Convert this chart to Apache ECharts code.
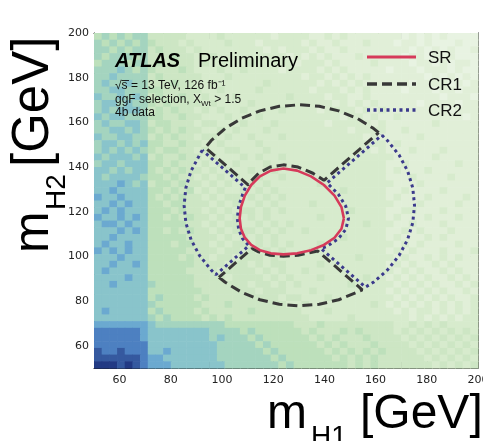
<!DOCTYPE html>
<html><head><meta charset="utf-8">
<script src="https://cdn.jsdelivr.net/npm/echarts@6/dist/echarts.min.js"></script>
<style>html,body{margin:0;padding:0;background:#fff}#c{width:483px;height:441px}</style>
</head><body><div id="c"></div>
<script>
// ---- data ----
const binWidth = 3;            // GeV per bin (both axes)
const binStart = 50;           // GeV, lower edge of first bin
// density level per bin (0 = lowest ... a = highest), rows top (m_H2 ~ 200) to bottom (m_H2 ~ 50)
const densityRows = [
"4545455 333332 2223222222122 221121211111 110101010000",
"5454545 433323 2222322212222 212112111211 101101000100",
"5545455 343332 3222222221212 221211211111 111010101001",
"5455545 333433 2232222222221 212121112111 110110101000",
"4555455 343333 2322222322222 122212111121 111011010110",
"5556545 433343 2223223222212 222121211111 011101110100",
"5565555 343333 3222322222222 212212121211 111110101010",
"5655655 333433 2232222223222 222121212111 111011110101",
"5566555 443333 3223222232222 221222121211 110111011011",
"6556565 343343 2322232222223 222212211211 111111101110",
"5665655 434333 3232222322222 222221212121 111101111011",
"5656665 343433 2323223222232 222122221212 111111110111",
"6566555 443343 3222322232222 222222122121 121111111101",
"5655665 344333 2332223222322 222212222212 111111211111",
"5566565 434343 3223232223222 222222212222 112111111111",
"6556655 343433 2332322322232 222222222121 111121111111",
"5665656 443343 3223222232222 222222222222 121111111111",
"5656565 434433 2322332223222 222222222212 111211121111",
"6566656 343343 3232223232232 222222222222 211111211111",
"5665666 443433 2323232223222 222222222222 112111111211",
"6656566 434343 3232322322322 222222222222 121112111111",
"6566665 443433 2323232232232 222222222222 111211112111",
"6667656 344343 3232322323222 222322222222 211121111111",
"6676666 443434 2323223232322 222222322222 112111121111",
"7667666 434343 3232332323232 222222222222 121112111121",
"6676766 443443 3323232232322 223222222222 211121111211",
"6767666 444343 3232323323232 222222232222 112211121111",
"7667676 443434 3323232323222 222322222222 121112111211",
"6776766 444443 3232332232323 222222222322 211211121111",
"6667676 443434 3323233323232 232222222222 112121112111",
"6676666 444443 3332323232322 222222322222 121112121111",
"6766766 444344 3323233232323 222322222222 212121111211",
"7676766 444443 3332332323232 223222222222 121211121112",
"6667666 444434 3323323332322 222222223222 212112121211",
"6676676 444444 3333233232332 222322222222 121211212111",
"6766666 444443 3332333323232 232222222222 212121121211",
"6666766 444444 3333233332323 222322222322 121212112121",
"6676666 544444 3333333233232 322222232222 212121211212",
"6666666 444444 4333333323332 223222222222 121212121121",
"6666666 454444 3433333333323 322232222222 212121212112",
"6666666 544444 4333433333332 232222222232 121212121212",
"6766666 454444 3433333433333 322232222222 212122121212",
"6666666 545444 4343433333333 332222232222 222121212122",
"7777777 655555 5555444444444 333433333333 322323232222",
"8888887 666666 6655554544444 434333434333 323232323232",
"8888887 666666 6656555454444 443434333433 332323232323",
"8888888 666666 6665555545444 444343433343 333232323232",
"9889888 667666 6665555554544 444434343434 333323232323",
"9999998 776666 6665555555454 444443434343 333332323232",
"aaa9a98 777666 6666555555545 444444434343 333333232323"
];
const levelColors = ['#e8f3e2','#e1efd8','#d7ebcd','#cde6c4','#bde0bb','#a4d4bf',
                     '#89c4cb','#6ba9d0','#4d80c1','#35599f','#223a84'];
const xTickLabels = [60, 80, 100, 120, 140, 160, 180, 200];
const yTickLabels = [60, 80, 100, 120, 140, 160, 180, 200];
const minorTicks = [55,65,70,75,85,90,95,105,110,115,125,130,135,145,150,155,165,170,175,185,190,195];
const legendNames = ['SR', 'CR1', 'CR2'];

// contour outlines [m_H1, m_H2] in GeV
const srCurve = [[147.62,117],[146.67,122.05],[143.95,127.17],[139.82,131.93],[134.78,135.82],[129.36,138.39],
  [124,139.29],[119.07,138.39],[114.81,135.82],[111.40,131.93],[108.91,127.17],[107.40,122.05],[106.90,117],
  [107.40,112.35],[108.91,108.33],[111.40,105.11],[114.81,102.76],[119.07,101.34],[124,100.86],[129.36,101.34],
  [134.78,102.76],[139.82,105.11],[143.95,108.33],[146.67,112.35],[147.62,117]];
const cr1Top = [[161.2,155.4],[159.13,157.32],[152.70,161.82],[145.59,165.14],[138.01,167.17],[130.2,167.85],
  [122.39,167.17],[114.81,165.14],[107.70,161.82],[101.27,157.32],[95.73,151.78],[93.5,148.7],[110.3,131.9],
  [110.69,132.99],[114.29,137.20],[118.77,139.99],[124,140.96],[129.71,139.99],[135.52,137.20],[139.85,134.05],[161.2,155.4]];
const cr1Bottom = [[98.8,90.6],[101.27,88.38],[107.70,83.88],[114.81,80.56],[122.39,78.53],[130.2,77.85],
  [138.01,78.53],[145.59,80.56],[152.70,83.88],[154.8,85.0],[137.45,102.35],[135.52,101.98],[129.71,100.50],
  [124,100],[118.77,100.50],[114.29,101.98],[111.7,103.5],[98.8,90.6]];
const cr2Left = [[92.3,147.5],[91.23,145.35],[87.91,138.24],[85.88,130.66],[85.2,122.85],[85.88,115.04],
  [87.91,107.46],[91.23,100.35],[95.73,93.92],[97.6,91.8],[110.5,104.7],[108.09,107.83],[106.51,112.07],
  [105.98,117],[106.51,122.38],[108.09,127.87],[109.1,130.7],[92.3,147.5]];
const cr2Right = [[162.45,154.25],[164.67,151.78],[169.17,145.35],[172.49,138.24],[174.52,130.66],[175.2,122.85],
  [174.52,115.04],[172.49,107.46],[169.17,100.35],[164.67,93.92],[159.13,88.38],[156.0,86.2],[138.65,103.55],
  [140.94,104.45],[145.41,107.83],[148.36,112.07],[149.40,117],[148.36,122.38],[145.41,127.87],[141.05,132.85],[162.45,154.25]];

// ---- build heatmap table ----
const heatData = [];
const nRows = densityRows.length;
densityRows.forEach((rowStr, k) => {
  const row = rowStr.replace(/ /g, '');
  const r = nRows - 1 - k;
  for (let c = 0; c < row.length; c++) {
    const ch = row.charAt(c);
    const lvl = ch === 'a' ? 10 : Number(ch);
    heatData.push([binStart + binWidth * c, binStart + binWidth * r, lvl]);
  }
});

const styles = {
  SR:  {color: '#d63a5a', width: 2.6, type: 'solid'},
  CR1: {color: '#383838', width: 3, type: [10, 5]},
  CR2: {color: '#3b3a8c', width: 3, type: [3, 3.5]}
};

const chart = echarts.init(document.getElementById('c'), null, {renderer: 'canvas'});
const gridRect = {left: 94, top: 33, width: 384, height: 335, containLabel: false, outerBoundsMode: 'none'};
const tickColor = '#1a1a1a';
const labelFont = {fontSize: 11, color: '#222', fontFamily: 'DejaVu Sans'};

function xAx(grid, pos, vals, len, line, labels) {
  return {gridIndex: grid, type: 'value', min: 50, max: 200, position: pos,
    axisLine: {show: line, onZero: false, lineStyle: {color: tickColor, width: 1}},
    axisTick: {show: true, inside: true, length: len, customValues: vals, lineStyle: {color: tickColor, width: 1}},
    axisLabel: labels ? Object.assign({show: true, customValues: xTickLabels, margin: 7}, labelFont) : {show: false},
    splitLine: {show: false}, minorTick: {show: false}};
}
function yAx(grid, pos, vals, len, line, labels) {
  return {gridIndex: grid, type: 'value', min: 50, max: 200, position: pos,
    axisLine: {show: line, onZero: false, lineStyle: {color: tickColor, width: 1}},
    axisTick: {show: true, inside: true, length: len, customValues: vals, lineStyle: {color: tickColor, width: 1}},
    axisLabel: labels ? Object.assign({show: true, customValues: yTickLabels, margin: 5}, labelFont) : {show: false},
    splitLine: {show: false}, minorTick: {show: false}};
}

const lineBase = {type: 'line', xAxisIndex: 0, yAxisIndex: 0, symbol: 'none', showSymbol: false,
  smooth: false, z: 5, silent: true, animation: false};

// legend drawn as graphic elements
const legendGraphics = [];
const legendRowY = [57, 84, 110];
legendNames.forEach((nm, i) => {
  const st = styles[nm];
  legendGraphics.push({type: 'line', z: 10, shape: {x1: 367, y1: legendRowY[i], x2: 416, y2: legendRowY[i]},
    style: {stroke: st.color, lineWidth: st.width + 0.4, lineDash: st.type === 'solid' ? null : st.type}});
  legendGraphics.push({type: 'text', x: 428, y: legendRowY[i] + 1, z: 10,
    style: {text: nm, font: '17px "Liberation Sans"', fill: '#111', align: 'left', verticalAlign: 'middle'}});
});

const option = {
  animation: false,
  backgroundColor: '#ffffff',
  grid: [Object.assign({}, gridRect), Object.assign({}, gridRect), Object.assign({}, gridRect), Object.assign({}, gridRect)],
  xAxis: [
    xAx(0, 'bottom', xTickLabels, 11, true, true),
    xAx(1, 'bottom', minorTicks, 6, false, false),
    xAx(2, 'top', xTickLabels, 11, true, false),
    xAx(3, 'top', minorTicks, 6, false, false)
  ],
  yAxis: [
    yAx(0, 'left', yTickLabels, 12, true, true),
    yAx(1, 'left', minorTicks, 7, false, false),
    yAx(2, 'right', yTickLabels, 12, true, false),
    yAx(3, 'right', minorTicks, 7, false, false)
  ],
  visualMap: {show: false, type: 'continuous', min: 0, max: 10, dimension: 2, seriesIndex: 0,
    inRange: {color: levelColors}},
  series: [
    {type: 'custom', name: 'data', xAxisIndex: 0, yAxisIndex: 0, data: heatData, z: 1, silent: true,
      encode: {x: 0, y: 1},
      renderItem: function (params, api) {
        const x0 = api.value(0), y0 = api.value(1);
        const p0 = api.coord([x0, y0 + binWidth]);
        const p1 = api.coord([x0 + binWidth, y0]);
        return {type: 'rect', shape: {x: p0[0], y: p0[1], width: p1[0] - p0[0] + 0.6, height: p1[1] - p0[1] + 0.6},
          style: {fill: api.visual('color')}};
      }},
    Object.assign({}, lineBase, {name: 'SR', data: srCurve, z: 6, lineStyle: styles.SR}),
    Object.assign({}, lineBase, {name: 'CR1', data: cr1Top, lineStyle: styles.CR1}),
    Object.assign({}, lineBase, {name: 'CR1', data: cr1Bottom, lineStyle: styles.CR1}),
    Object.assign({}, lineBase, {name: 'CR2', data: cr2Left, lineStyle: styles.CR2}),
    Object.assign({}, lineBase, {name: 'CR2', data: cr2Right, lineStyle: styles.CR2})
  ],
  graphic: legendGraphics.concat([
    {type: 'text', x: 115, y: 61, z: 10, style: {text: 'ATLAS', font: 'italic bold 20px "Liberation Sans"', fill: '#000', align: 'left', verticalAlign: 'middle'}},
    {type: 'text', x: 198, y: 61, z: 10, style: {text: 'Preliminary', font: '20px "Liberation Sans"', fill: '#000', align: 'left', verticalAlign: 'middle'}},
    {type: 'text', x: 115, y: 86, z: 10, style: {text: '\u221As = 13 TeV, 126 fb\u207B\u00B9', font: '12px "Liberation Sans"', fill: '#111', align: 'left', verticalAlign: 'middle'}},
    {type: 'line', z: 10, shape: {x1: 121.5, y1: 80.5, x2: 129, y2: 80.5}, style: {stroke: '#111', lineWidth: 0.9}},
    {type: 'text', x: 115, y: 100, z: 10, style: {
      text: '{a|ggF selection, X}{b|Wt}{a| > 1.5}', align: 'left', verticalAlign: 'middle',
      rich: {a: {font: '12px "Liberation Sans"', fill: '#111', lineHeight: 16, verticalAlign: 'middle'},
             b: {font: '8px "Liberation Sans"', fill: '#111', lineHeight: 8, verticalAlign: 'bottom'}}}},
    {type: 'text', x: 115, y: 113, z: 10, style: {text: '4b data', font: '12px "Liberation Sans"', fill: '#111', align: 'left', verticalAlign: 'middle'}},
    // x-axis title
    {type: 'text', x: 267, y: 415, z: 10, style: {text: 'm', font: '48px "Liberation Sans"', fill: '#000', align: 'left', verticalAlign: 'middle'}},
    {type: 'text', x: 311, y: 437, z: 10, style: {text: 'H1', font: '28px "Liberation Sans"', fill: '#000', align: 'left', verticalAlign: 'middle'}},
    {type: 'text', x: 360, y: 415, z: 10, style: {text: '[GeV]', font: '48px "Liberation Sans"', fill: '#000', align: 'left', verticalAlign: 'middle'}},
    // y-axis title (rotated)
    {type: 'text', x: 34, y: 253, rotation: Math.PI / 2, z: 10, style: {text: 'm', font: '50px "Liberation Sans"', fill: '#000', align: 'left', verticalAlign: 'middle'}},
    {type: 'text', x: 57, y: 210, rotation: Math.PI / 2, z: 10, style: {text: 'H2', font: '28px "Liberation Sans"', fill: '#000', align: 'left', verticalAlign: 'middle'}},
    {type: 'text', x: 34, y: 167, rotation: Math.PI / 2, z: 10, style: {text: '[GeV]', font: '51px "Liberation Sans"', fill: '#000', align: 'left', verticalAlign: 'middle'}}
  ])
};
chart.setOption(option);
</script>
</body></html>
